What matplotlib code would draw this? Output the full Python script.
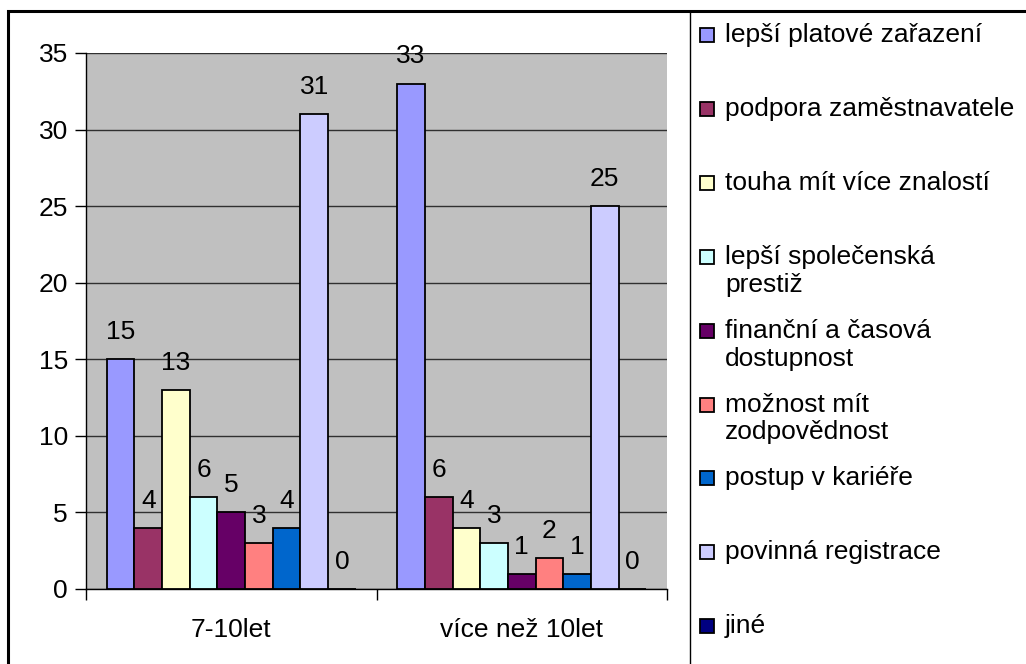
import numpy as np
import matplotlib.pyplot as plt
from matplotlib.patches import Rectangle
from matplotlib.lines import Line2D

plt.rcParams["font.family"] = ["Liberation Sans", "DejaVu Sans"]

groups = ["7-10let", "více než 10let"]
labels = [
    "lepší platové zařazení",
    "podpora zaměstnavatele",
    "touha mít více znalostí",
    "lepší společenská\nprestiž",
    "finanční a časová\ndostupnost",
    "možnost mít\nzodpovědnost",
    "postup v kariéře",
    "povinná registrace",
    "jiné",
]
values = [
    [15, 33],
    [4, 6],
    [13, 4],
    [6, 3],
    [5, 1],
    [3, 2],
    [4, 1],
    [31, 25],
    [0, 0],
]
colors = ["#9999FF", "#993366", "#FFFFCC", "#CCFFFF", "#660066",
          "#FF8080", "#0066CC", "#CCCCFF", "#000080"]

W, H = 1026, 664
fs = 19

fig = plt.figure(figsize=(W / 100, H / 100), dpi=100)
ax = fig.add_axes([86 / W, 75 / H, (667 - 86) / W, (589 - 53) / H])
ax.set_facecolor("#C0C0C0")

n = len(labels)
width = 1 / (n + 1.5)
x = np.arange(len(groups))
for i, (lab, vals, c) in enumerate(zip(labels, values, colors)):
    pos = x + (i - (n - 1) / 2) * width
    bars = ax.bar(pos, vals, width, color=c, edgecolor="black",
                  linewidth=1.3, label=lab, zorder=3)
    for b, v in zip(bars, vals):
        ax.annotate(str(v), (b.get_x() + b.get_width() / 2, v),
                    xytext=(0, 14.5), textcoords="offset points",
                    ha="center", va="baseline", fontsize=fs)

ax.set_xlim(-0.5, len(groups) - 0.5)
ax.set_ylim(0, 35)
ax.set_yticks(range(0, 36, 5))
ax.yaxis.grid(True, color="#303030", linewidth=1, zorder=1)
ax.set_axisbelow(True)
ax.set_xticks(np.arange(-0.5, len(groups), 1.0))
ax.set_xticklabels([])
ax.set_xticks(x, minor=True)
ax.set_xticklabels(groups, minor=True, fontsize=fs)
ax.tick_params(axis="x", which="major", length=8, width=1, direction="out")
ax.tick_params(axis="x", which="minor", length=0, pad=21)
ax.tick_params(axis="y", length=8, width=1, direction="out", labelsize=fs, pad=5)
for s in ["top", "right"]:
    ax.spines[s].set_visible(False)
for s in ["left", "bottom"]:
    ax.spines[s].set_linewidth(1)

# outer frame and legend separator
fig.add_artist(Rectangle((8 / W, -0.05), 1.05, (H - 11) / H + 0.05,
                         transform=fig.transFigure, fill=False,
                         edgecolor="black", linewidth=2.2))
fig.add_artist(Line2D([690 / W, 690 / W], [0, (H - 11) / H],
                      transform=fig.transFigure, color="black", linewidth=1))

# legend, one entry every 74 px, wrapped lines 28 px apart
step = 73.9
for i, (lab, c) in enumerate(zip(labels, colors)):
    yc = 35 + i * step
    fig.add_artist(Rectangle((700 / W, (H - yc - 7) / H), 14 / W, 14 / H,
                             transform=fig.transFigure, facecolor=c,
                             edgecolor="black", linewidth=1.3))
    for k, line in enumerate(lab.split("\n")):
        fig.text(725 / W, (H - yc - 7 - k * 28) / H, line, fontsize=fs,
                 va="baseline", ha="left")

fig.savefig("out.png", dpi=100)
